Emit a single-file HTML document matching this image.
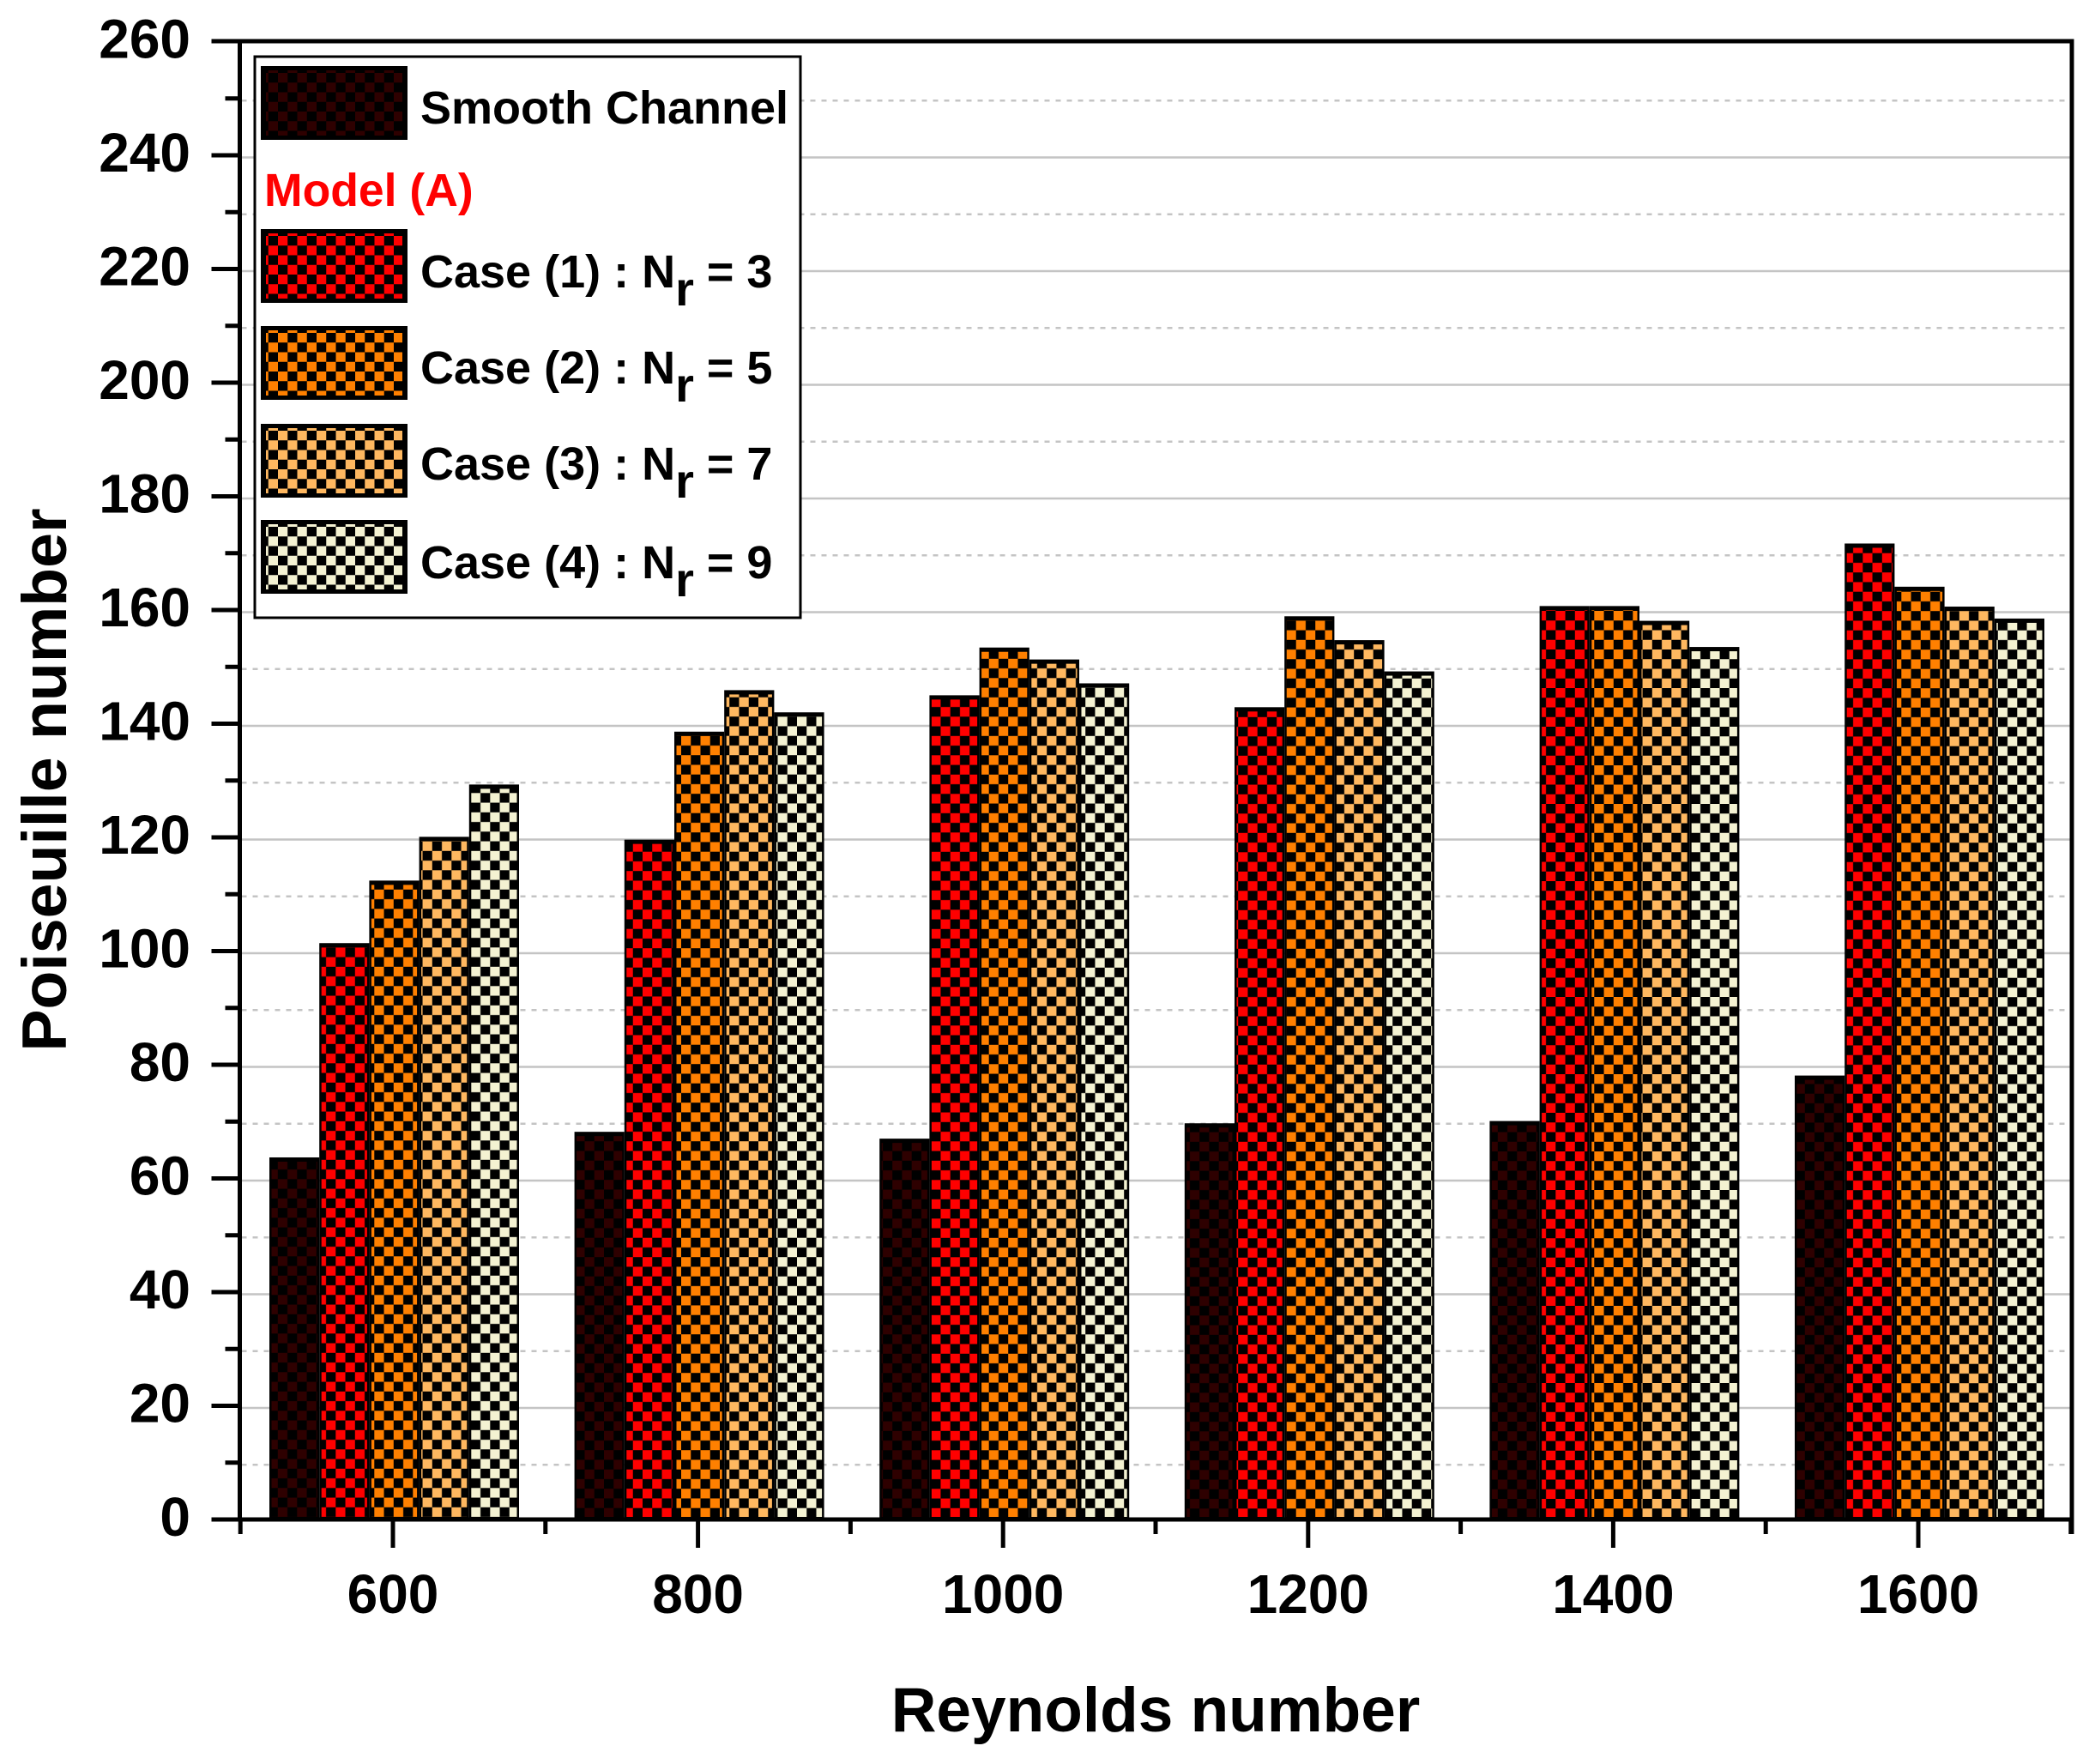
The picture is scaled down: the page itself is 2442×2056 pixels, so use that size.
<!DOCTYPE html>
<html lang="en">
<head>
<meta charset="utf-8">
<title>Poiseuille number vs Reynolds number</title>
<style>
  html, body { margin: 0; padding: 0; background: #ffffff; }
  svg { display: block; }
  text { font-family: "Liberation Sans", sans-serif; font-weight: bold; fill: #000000; }
</style>
</head>
<body>
<svg id="chart" xmlns="http://www.w3.org/2000/svg" width="2442" height="2056" viewBox="0 0 2442 2056">
  <defs id="pattern-defs"></defs>
  <rect x="0" y="0" width="2442" height="2056" fill="#ffffff"></rect>
  <g id="grid-layer"></g>
  <g id="bar-layer"></g>
  <g id="axis-layer"></g>

  <text transform="translate(77 909) rotate(-90)" text-anchor="middle" font-size="73.5">Poiseuille number</text>
  <text x="1347" y="2018" text-anchor="middle" font-size="73">Reynolds number</text>

  <g id="legend">
    <rect x="297" y="66" width="636" height="654" fill="#ffffff" stroke="#000000" stroke-width="3"></rect>
    <g id="legend-swatches"></g>
    <text x="490" y="144" font-size="54">Smooth Channel</text>
    <text x="308" y="240" font-size="53.5" style="fill:#ff0000">Model (A)</text>
    <text x="490" y="335" font-size="54">Case (1) : N<tspan dy="21" font-size="56">r</tspan><tspan dy="-21"> = 3</tspan></text>
    <text x="490" y="447" font-size="54">Case (2) : N<tspan dy="21" font-size="56">r</tspan><tspan dy="-21"> = 5</tspan></text>
    <text x="490" y="559" font-size="54">Case (3) : N<tspan dy="21" font-size="56">r</tspan><tspan dy="-21"> = 7</tspan></text>
    <text x="490" y="674" font-size="54">Case (4) : N<tspan dy="21" font-size="56">r</tspan><tspan dy="-21"> = 9</tspan></text>
  </g>
</svg>

<script>
// ---- chart data ----
const categories = [600, 800, 1000, 1200, 1400, 1600];
const smoothChannel = [63.7, 68.2, 67, 69.7, 70.1, 78.1];
const case1Nr3 = [101.4, 119.6, 145, 142.9, 160.7, 171.7];
const case2Nr5 = [112.4, 138.6, 153.4, 158.9, 160.7, 164.1];
const case3Nr7 = [120.1, 145.9, 151.3, 154.7, 158.1, 160.6];
const case4Nr9 = [129.3, 142, 147.1, 149.2, 153.5, 158.5];
const yMajorTicks = [0, 20, 40, 60, 80, 100, 120, 140, 160, 180, 200, 220, 240, 260];
const yMinorTicks = [10, 30, 50, 70, 90, 110, 130, 150, 170, 190, 210, 230, 250];
const xMinorTicks = [500, 700, 900, 1100, 1300, 1500, 1700];
const seriesKeys = ['smooth', 'case-1', 'case-2', 'case-3', 'case-4'];
const allSeries = [smoothChannel, case1Nr3, case2Nr5, case3Nr7, case4Nr9];

// ---- styling ----
const seriesColors = ['#2e0000', '#ff0000', '#ff8000', '#ffb860', '#f4f2d2'];
// checker phase of each group, as seen in the reference raster
const groupPhaseX = [391.3, 794, 1107.7, 1510.7, 1813.3, 2171.3];
const groupPhaseY = [1104.3, 857.7, 835.3, 723.3, 712, 644.7];

// ---- axis functions ----
const SVGNS = 'http://www.w3.org/2000/svg';
const baseY = 1771;
const unitY = 6.625;
const leftX = 279.5;
const rightX = 2415;
const topY = 48;
const x600 = 458;
const pxPerRe = 355.6 / 200;
function y(v) { return baseY - v * unitY; }
function x(re) { return x600 + (re - 600) * pxPerRe; }

function make(tag, attrs, parent) {
  const node = document.createElementNS(SVGNS, tag);
  for (const k in attrs) node.setAttribute(k, attrs[k]);
  parent.appendChild(node);
  return node;
}

const defs = document.getElementById('pattern-defs');
const gridLayer = document.getElementById('grid-layer');
const barLayer = document.getElementById('bar-layer');
const axisLayer = document.getElementById('axis-layer');
const swatchLayer = document.getElementById('legend-swatches');

const CELL = 11.25;
function makePattern(id, color, ox, oy) {
  const p = make('pattern', {
    id: id, patternUnits: 'userSpaceOnUse',
    x: ox, y: oy, width: CELL * 2, height: CELL * 2
  }, defs);
  make('rect', { x: 0, y: 0, width: CELL * 2, height: CELL * 2, fill: '#000000' }, p);
  make('rect', { x: 0, y: 0, width: CELL, height: CELL, fill: color }, p);
  make('rect', { x: CELL, y: CELL, width: CELL, height: CELL, fill: color }, p);
}

// ---- gridlines ----
const gridShift = 2.5;
yMajorTicks.forEach(function (v) {
  if (v === 0 || v === 260) return;
  const g = make('line', { x1: leftX + 2, x2: rightX - 2, y1: y(v) + gridShift, y2: y(v) + gridShift, stroke: '#c4c4c4', 'stroke-width': 2.6 }, gridLayer);
  
  
});
yMinorTicks.forEach(function (v) {
  const g = make('line', { x1: leftX + 2, x2: rightX - 2, y1: y(v) + gridShift, y2: y(v) + gridShift, stroke: '#c4c4c4', 'stroke-width': 2.6, 'stroke-dasharray': '6 7' }, gridLayer);
  
  
});

// ---- bars ----
const groupWidth = 291;
const barPitch = groupWidth / allSeries.length;
const border = 5;
categories.forEach(function (cat, c) {
  const start = x(cat) + 1.5 - groupWidth / 2;
  allSeries.forEach(function (values, s) {
    const patId = 'pat-' + c + '-' + s;
    makePattern(patId, seriesColors[s], groupPhaseX[c], groupPhaseY[c]);
    const left = start + s * barPitch;
    const top = y(values[c]);
    const outer = make('rect', { x: left, y: top, width: barPitch, height: baseY - top, fill: '#000000' }, barLayer);
    
    
    const inner = make('rect', {
      x: left + 2.5, y: top + border,
      width: barPitch - border, height: Math.max(0, baseY - top - border - 3),
      fill: 'url(#' + patId + ')'
    }, barLayer);
    
    
  });
});

// ---- axes ----
function axisLine(name, x1, y1, x2, y2) {
  const l = make('line', { x1: x1, y1: y1, x2: x2, y2: y2, stroke: '#000000', 'stroke-width': 5 }, axisLayer);
  
  
}
axisLine('y-axis-line', leftX, topY - 2.5, leftX, baseY + 2.5);
axisLine('top-axis-line', leftX - 33, topY, rightX + 2.5, topY);
axisLine('x-axis-line', leftX - 33, baseY, rightX + 2.5, baseY);
axisLine('right-axis-line', rightX, topY - 2.5, rightX, baseY + 17);

yMajorTicks.forEach(function (v) {
  if (v !== 0 && v !== 260) axisLine('y-tick-' + v, leftX - 33, y(v), leftX, y(v));
  const t = make('text', { x: 222, y: y(v) + 19, 'text-anchor': 'end', 'font-size': 64 }, axisLayer);
  t.textContent = String(v);
  
  
});
yMinorTicks.forEach(function (v) {
  axisLine('y-minor-tick-' + v, leftX - 17, y(v), leftX, y(v));
});
categories.forEach(function (cat) {
  axisLine('x-tick-' + cat, x(cat), baseY, x(cat), 1804);
  const t = make('text', { x: x(cat), y: 1880, 'text-anchor': 'middle', 'font-size': 64 }, axisLayer);
  t.textContent = String(cat);
  
  
});
xMinorTicks.forEach(function (re) {
  axisLine('x-minor-tick-' + re, x(re), baseY, x(re), 1788);
});

// ---- legend swatches ----
const swatchTops = [77, 267, 380, 494, 606];
seriesKeys.forEach(function (key, s) {
  const top = swatchTops[s];
  const patId = 'legend-pat-' + s;
  makePattern(patId, seriesColors[s], 324, top + 8);
  const outer = make('rect', { x: 304, y: top, width: 171, height: 86, fill: '#000000' }, swatchLayer);
  
  
  const inner = make('rect', { x: 310, y: top + 5, width: 159, height: 76, fill: 'url(#' + patId + ')' }, swatchLayer);
  
  
});
</script>
</body>
</html>
